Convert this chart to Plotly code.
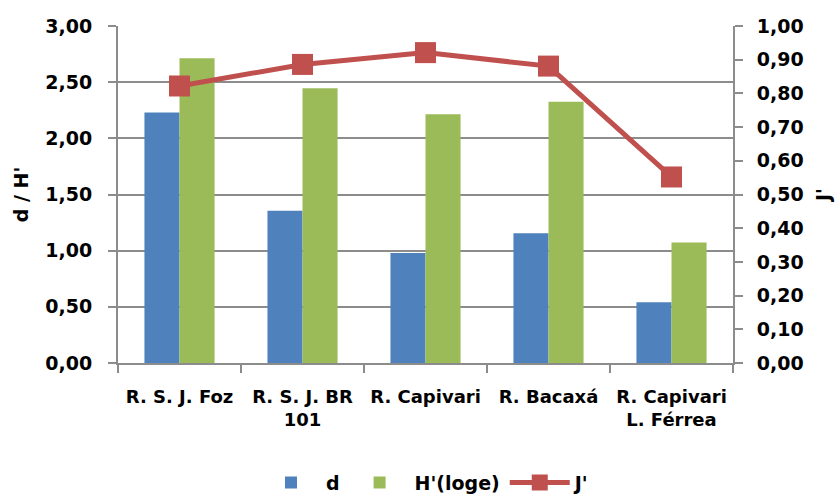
import plotly.graph_objects as go

# Sampling sites
sites = ["R. S. J. Foz", "R. S. J. BR<br>101", "R. Capivari", "R. Bacaxá", "R. Capivari<br>L. Férrea"]

# Margalef richness (d) and Shannon diversity H'(loge)
d_values = [2.23, 1.355, 0.98, 1.155, 0.54]
h_values = [2.713, 2.446, 2.214, 2.326, 1.073]

# Pielou evenness J'
j_values = [0.822, 0.886, 0.921, 0.881, 0.552]

left_ticks = [0, 0.5, 1.0, 1.5, 2.0, 2.5, 3.0]
right_ticks = [round(i * 0.1, 1) for i in range(11)]

FONT = "DejaVu Sans"
BLUE = "#4F81BD"
GREEN = "#9BBB59"
RED = "#C0504D"
GRID = "#8C8C8C"
SIZE = 19

bold = dict(family=FONT, size=SIZE, color="black", weight="bold")
bold_x = dict(family=FONT, size=18, color="black", weight="bold")

fig = go.Figure()
fig.add_trace(go.Bar(x=sites, y=d_values, name="d", marker=dict(color=BLUE, line=dict(width=0))))
fig.add_trace(go.Bar(x=sites, y=h_values, name="H'(loge)", marker=dict(color=GREEN, line=dict(width=0))))
fig.add_trace(go.Scatter(
    x=sites, y=j_values, name="J'", yaxis="y2", mode="lines+markers",
    line=dict(color=RED, width=5),
    marker=dict(symbol="square", size=21, color=RED),
))

fig.update_layout(
    width=840, height=497,
    margin=dict(l=118, r=107, t=26, b=134, autoexpand=False),
    paper_bgcolor="white", plot_bgcolor="white",
    separators=",.",
    barmode="group", bargap=0.43, bargroupgap=0,
    font=bold,
    showlegend=True,
    legend=dict(
        orientation="h", x=0.5, xanchor="center", y=-0.355, yanchor="middle",
        font=bold,
        itemwidth=60, entrywidth=0,
        bgcolor="rgba(0,0,0,0)",
    ),
    xaxis=dict(
        type="category", tickson="boundaries", tickangle=0,
        ticks="outside", ticklen=8, tickcolor=GRID, tickwidth=2,
        showline=True, linecolor=GRID, linewidth=2,
        tickfont=bold_x, ticklabelstandoff=16,
        showgrid=False,
    ),
    yaxis=dict(
        range=[0, 3], tickvals=left_ticks, tickformat=".2f",
        ticks="outside", ticklen=8, tickcolor=GRID, tickwidth=2,
        showline=True, linecolor=GRID, linewidth=2,
        showgrid=True, gridcolor=GRID, gridwidth=2,
        zeroline=False,
        ticklabelstandoff=12,
        tickfont=bold,
        title=dict(text="d / H'", standoff=12, font=bold),
    ),
    yaxis2=dict(
        range=[0, 1], tickvals=right_ticks, tickformat=".2f",
        overlaying="y", side="right",
        ticks="outside", ticklen=8, tickcolor=GRID, tickwidth=2,
        showline=True, linecolor=GRID, linewidth=2,
        showgrid=False, zeroline=False,
        ticklabelstandoff=10,
        tickfont=bold,
        title=dict(text="J'", standoff=14, font=bold),
    ),
)

fig.write_html("out.html")
